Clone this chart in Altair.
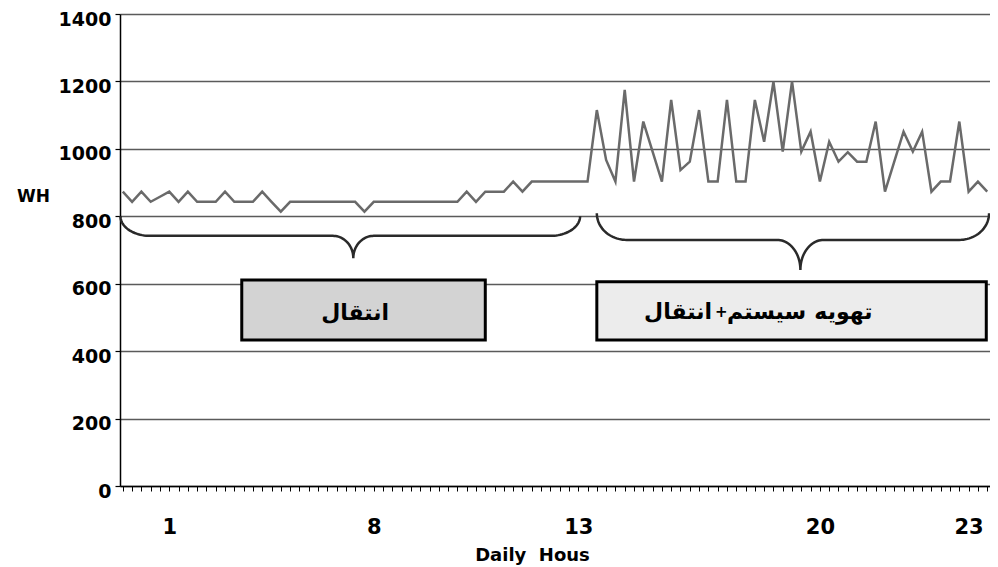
import altair as alt
import pandas as pd
import numpy as np

# ---------------- data ----------------
wh_values = [
    873, 843, 873, 843, 858, 873, 843, 873, 843, 843, 843, 873, 843, 843, 843, 873, 843, 814,
    843, 843, 843, 843, 843, 843, 843, 843, 814,
    843, 843, 843, 843, 843, 843, 843, 843, 843, 843,
    873, 843, 873, 873, 873, 903, 873, 903, 903, 903, 903, 903, 903, 903,
    1115, 967, 903, 1175, 903, 1081, 992, 903, 1145, 937, 962, 1115, 903, 903,
    1145, 903, 903, 1145, 1021, 1199, 992, 1200, 992, 1051, 903, 1021, 962, 990,
    962, 962, 1081, 873, 962, 1051, 992, 1051, 873, 903, 903, 1081, 873, 903, 873,
]
sample_idx = list(range(len(wh_values)))

hour_labels = ["1", "8", "13", "20", "23"]
hour_label_idx = [5, 27, 49, 75, 91]

y_ticks = [0, 200, 400, 600, 800, 1000, 1200, 1400]

# boxes
box_x = [12.8, 51.0]
box_x2 = [39.0, 92.9]
box_y = [611, 606]
box_y2 = [433, 433]
box_fill = ["#d3d3d3", "#ececec"]

# box texts (words of each label, as they appear left to right)
word_texts = ["انتقال", "انتقال", "+", "سیستم", "تهویه"]
word_x = [25.0, 63.4, 64.4, 65.0, 74.4]
word_y = [513, 517, 517, 517, 517]
word_align = ["center", "right", "center", "left", "left"]
word_size = [22, 22, 15, 22, 22]

# brace parameters: start, end, tip x ; top, middle, tip y ; end / tip radius
brace_params = [
    dict(x0=-0.25, x1=49.2, xt=24.8, ytop=800, ymid=742, ytip=676, re=3.2, rt=2.2),
    dict(x0=51.0, x1=93.2, xt=72.9, ytop=809, ymid=730, ytip=641, re=3.2, rt=2.5),
]

# ---------------- tables ----------------
df = pd.DataFrame({"idx": sample_idx, "wh": wh_values})

boxes = pd.DataFrame({"x": box_x, "x2": box_x2, "y": box_y, "y2": box_y2, "fill": box_fill})
words = pd.DataFrame({"tx": word_x, "ty": word_y, "label": word_texts,
                      "al": word_align, "fs": word_size})


def brace_points(p, n=24):
    t = np.linspace(0, np.pi / 2, n)
    s = t[::-1]
    xs, ys = [], []
    xs += list(p["x0"] + p["re"] - p["re"] * np.cos(t))
    ys += list(p["ytop"] - (p["ytop"] - p["ymid"]) * np.sin(t))
    xs += list(p["xt"] - p["rt"] + p["rt"] * np.sin(t))
    ys += list(p["ytip"] + (p["ymid"] - p["ytip"]) * np.cos(t))
    xs += list(p["xt"] + p["rt"] - p["rt"] * np.sin(s))
    ys += list(p["ytip"] + (p["ymid"] - p["ytip"]) * np.cos(s))
    xs += list(p["x1"] - p["re"] + p["re"] * np.cos(s))
    ys += list(p["ytop"] - (p["ytop"] - p["ymid"]) * np.sin(s))
    return xs, ys


rows = []
for b, p in enumerate(brace_params):
    xs, ys = brace_points(p)
    for k, (xx, yy) in enumerate(zip(xs, ys)):
        rows.append({"brace": b, "o": k, "bx": xx, "by": yy})
braces = pd.DataFrame(rows)

# ---------------- scales / axes ----------------
xscale = alt.Scale(domain=[-0.3, 93.3], nice=False, zero=False)
yscale = alt.Scale(domain=[0, 1400], nice=False)

label_expr = "".join(
    f"datum.value == {v} ? '{l}' : " for v, l in zip(hour_label_idx, hour_labels)
) + "''"

FONT = "DejaVu Sans"

x_axis = alt.Axis(
    values=sample_idx, labelExpr=label_expr, labelOverlap=False,
    tickSize=5, tickColor="black", tickWidth=1,
    domainColor="black", domainWidth=1.5, grid=False,
    labelFont=FONT, labelFontWeight="bold", labelFontSize=21, labelColor="black",
    labelBaseline="middle", labelPadding=36, labelFlush=False,
    title="Daily\u00a0 Hous", titleFont=FONT, titleFontWeight="bold", titleFontSize=18,
    titleColor="black", titleX=412, titleY=69, titleAlign="center",
    titleBaseline="middle", titleAnchor="start",
)

y_axis = alt.Axis(
    values=y_ticks, format="d", grid=True, gridColor="#5a5a5a", gridWidth=1.5,
    tickSize=5, tickColor="black", tickWidth=1.2,
    domainColor="black", domainWidth=1.5,
    labelFont=FONT, labelFontWeight="bold", labelFontSize=19, labelColor="black",
    labelBaseline="middle", labelPadding=4, labelOffset=5,
    title="WH", titleFont=FONT, titleFontWeight="bold", titleFontSize=17,
    titleColor="black", titleAngle=0, titleX=-87, titleY=182,
    titleAlign="center", titleBaseline="middle",
)

line = alt.Chart(df).mark_line(color="#6a6a6a", strokeWidth=2.5).encode(
    x=alt.X("idx:Q", scale=xscale, axis=x_axis),
    y=alt.Y("wh:Q", scale=yscale, axis=y_axis),
)

rects = alt.Chart(boxes).mark_rect(stroke="black", strokeWidth=3).encode(
    x=alt.X("x:Q", scale=xscale, axis=x_axis), x2="x2:Q",
    y=alt.Y("y:Q", scale=yscale, axis=y_axis), y2="y2:Q",
    fill=alt.Fill("fill:N", scale=None),
)


def word_layer(al):
    return alt.Chart(words).transform_filter(
        alt.datum.al == al
    ).mark_text(
        font=FONT, fontWeight="bold", color="black",
        align=al, baseline="middle",
    ).encode(
        x=alt.X("tx:Q", scale=xscale, axis=x_axis),
        y=alt.Y("ty:Q", scale=yscale, axis=y_axis),
        text="label:N",
        size=alt.Size("fs:Q", scale=None),
    )


brace_lines = alt.Chart(braces).mark_line(color="#2a2a2a", strokeWidth=2.5).encode(
    x=alt.X("bx:Q", scale=xscale, axis=x_axis),
    y=alt.Y("by:Q", scale=yscale, axis=y_axis),
    detail="brace:N",
    order="o:Q",
)

chart = alt.layer(
    line, rects, brace_lines, word_layer("center"), word_layer("right"), word_layer("left")
).properties(
    width=870, height=472,
    background="white",
    autosize=alt.AutoSizeParams(type="none"),
    padding={"left": 112, "top": 6, "right": 0, "bottom": 82},
).configure_view(stroke=None)

chart.save("out.html", embed_options={"renderer": "svg", "actions": False})
